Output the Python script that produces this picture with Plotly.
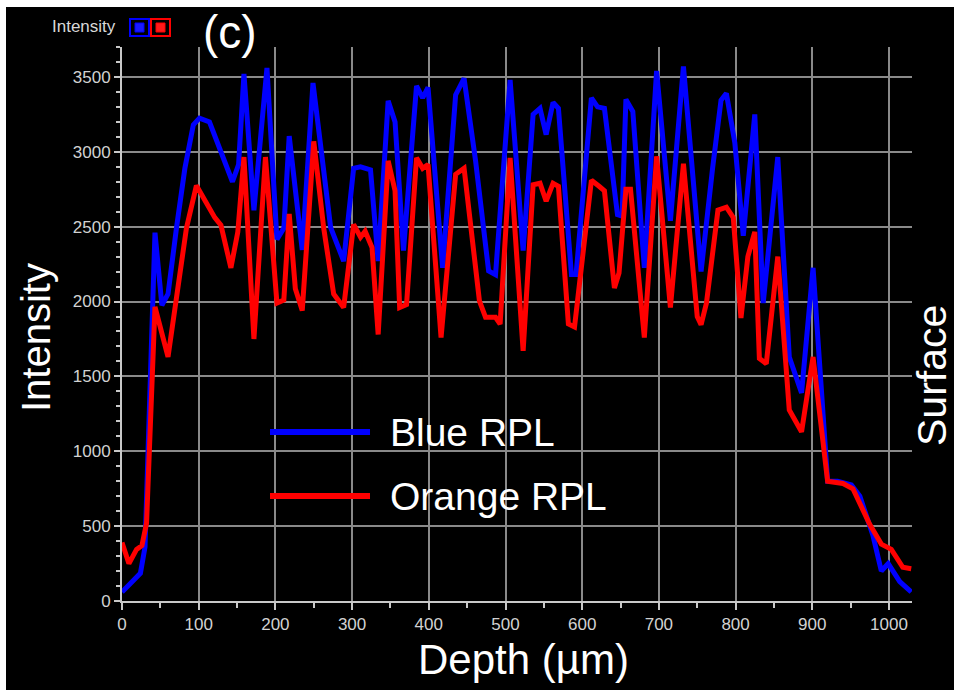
import plotly.graph_objects as go

# ---- data ----
depth_blue = [0, 10, 24, 30, 43, 52, 60, 71, 82, 93, 101, 114, 129, 144, 152, 159, 172, 189,
              202, 211, 218, 235, 249, 272, 289, 302, 311, 324, 334, 347, 356, 367, 384, 392,
              399, 418, 435, 446, 461, 478, 487, 506, 523, 536, 545, 553, 562, 569, 586, 592,
              612, 620, 629, 646, 652, 657, 666, 681, 697, 715, 732, 755, 770, 781, 788, 799,
              810, 825, 836, 855, 870, 886, 901, 920, 933, 951, 962, 979, 990, 999, 1014, 1029]
blue_rpl = [60, 110, 185, 360, 2460, 1975, 2050, 2490, 2890, 3180, 3225, 3200, 3010, 2800, 2915,
            3520, 2610, 3560, 2415, 2490, 3105, 2345, 3460, 2495, 2270, 2890, 2900, 2880, 2270,
            3340, 3200, 2340, 3440, 3360, 3430, 2225, 3380, 3490, 2940, 2205, 2180, 3480, 2340,
            3250, 3290, 3115, 3330, 3290, 2180, 2180, 3360, 3300, 3290, 2580, 2570, 3350, 3270,
            2225, 3540, 2540, 3570, 2200, 2890, 3345, 3390, 3060, 2440, 3250, 1990, 2965, 1630,
            1390, 2225, 800, 800, 775, 700, 440, 200, 250, 130, 60]

depth_orange = [0, 9, 19, 26, 32, 43, 60, 73, 84, 97, 110, 121, 129, 142, 151, 159, 172, 187,
                202, 211, 218, 226, 235, 250, 263, 276, 289, 302, 311, 317, 326, 334, 347, 356,
                362, 371, 384, 392, 399, 416, 435, 446, 466, 474, 487, 493, 506, 523, 536, 545,
                553, 562, 569, 582, 590, 612, 622, 629, 642, 648, 657, 663, 681, 697, 715, 732,
                750, 755, 762, 777, 788, 797, 807, 816, 825, 831, 840, 855, 870, 886, 901, 920,
                940, 953, 975, 990, 1003, 1018, 1029]
orange_rpl = [390, 250, 345, 370, 520, 1965, 1630, 2085, 2490, 2775, 2655, 2560, 2510, 2225, 2465,
              2965, 1750, 2965, 1990, 2010, 2585, 2085, 1940, 3070, 2490, 2050, 1960, 2515, 2430,
              2470, 2360, 1780, 2940, 2740, 1960, 1980, 2960, 2890, 2915, 1760, 2850, 2890, 2005,
              1895, 1895, 1850, 2960, 1670, 2780, 2790, 2670, 2790, 2770, 1850, 1830, 2810, 2770,
              2740, 2090, 2190, 2750, 2750, 1760, 2970, 1960, 2920, 1900, 1845, 1990, 2610, 2630,
              2560, 1890, 2300, 2465, 1620, 1585, 2300, 1275, 1130, 1630, 800, 785, 750, 510, 380,
              345, 225, 215]

series_names = ["Blue RPL", "Orange RPL"]
series_colors = ["#0000ff", "#ff0000"]

# ---- layout geometry (pixels) ----
W, H = 954, 690
ML, MR, MT, MB = 122, 42, 47, 89
PW, PH = W - ML - MR, H - MT - MB


def px(x):
    return (x - ML) / PW


def py(y):
    return (H - MB - y) / PH


FONT = "Liberation Sans, Arial, sans-serif"

fig = go.Figure()
fig.add_trace(go.Scatter(x=depth_blue, y=blue_rpl, mode="lines", name=series_names[0],
                         line=dict(color=series_colors[0], width=5), showlegend=False))
fig.add_trace(go.Scatter(x=depth_orange, y=orange_rpl, mode="lines", name=series_names[1],
                         line=dict(color=series_colors[1], width=5), showlegend=False))

axis_common = dict(
    showline=True, linecolor="#c8c8c8", linewidth=2,
    ticks="outside", tickcolor="#c8c8c8", tickwidth=2,
    showgrid=True, gridcolor="#8a8a8a", gridwidth=1.5,
    zeroline=False,
    tickfont=dict(family=FONT, size=17, color="#d2d2d2"),
)

fig.update_xaxes(range=[0, 1030], dtick=100, tick0=0, ticklen=7,
                 minor=dict(dtick=50, ticks="outside", ticklen=5, tickcolor="#c8c8c8",
                            tickwidth=2, showgrid=False),
                 **axis_common)
fig.update_yaxes(range=[0, 3700], dtick=500, tick0=0, ticklen=6,
                 minor=dict(dtick=100, ticks="outside", ticklen=4, tickcolor="#c8c8c8",
                            tickwidth=2, showgrid=False),
                 **axis_common)

shapes = []
# white strip at top / left edge of picture
shapes.append(dict(type="rect", xref="paper", yref="paper", x0=px(0), x1=px(W), y0=py(7), y1=py(0),
                   fillcolor="white", line=dict(width=0), layer="above"))
shapes.append(dict(type="rect", xref="paper", yref="paper", x0=px(0), x1=px(6), y0=py(H), y1=py(0),
                   fillcolor="white", line=dict(width=0), layer="above"))
# in-plot legend lines
for i, yy in enumerate([432, 496]):
    shapes.append(dict(type="line", xref="paper", yref="paper", x0=px(270), x1=px(370),
                       y0=py(yy), y1=py(yy), line=dict(color=series_colors[i], width=6)))
# small channel icons top-left
for i, (x0, x1) in enumerate([(130, 149), (151, 170)]):
    col = series_colors[i]
    shapes.append(dict(type="rect", xref="paper", yref="paper", x0=px(x0), x1=px(x1),
                       y0=py(36), y1=py(19), line=dict(color=col, width=2), fillcolor="rgba(0,0,0,0)"))
    shapes.append(dict(type="rect", xref="paper", yref="paper", x0=px(x0 + 5), x1=px(x1 - 5),
                       y0=py(32), y1=py(23), line=dict(color=col, width=1),
                       fillcolor=["#1a1aff", "#ff1a1a"][i]))

annotations = [
    dict(text=series_names[0], x=px(388), y=py(432), xref="paper", yref="paper",
         xanchor="left", yanchor="middle", showarrow=False,
         font=dict(family=FONT, size=39, color="white")),
    dict(text=series_names[1], x=px(388), y=py(496), xref="paper", yref="paper",
         xanchor="left", yanchor="middle", showarrow=False,
         font=dict(family=FONT, size=39, color="white")),
    dict(text="Intensity", x=px(36), y=py(338), xref="paper", yref="paper", textangle=-90,
         xanchor="center", yanchor="middle", showarrow=False,
         font=dict(family=FONT, size=40, color="white")),
    dict(text="Surface", x=px(932), y=py(375), xref="paper", yref="paper", textangle=-90,
         xanchor="center", yanchor="middle", showarrow=False,
         font=dict(family=FONT, size=41, color="white")),
    dict(text="Depth (µm)", x=px(523), y=py(659), xref="paper", yref="paper",
         xanchor="center", yanchor="middle", showarrow=False,
         font=dict(family=FONT, size=42, color="white")),
    dict(text="(c)", x=px(230), y=py(32), xref="paper", yref="paper",
         xanchor="center", yanchor="middle", showarrow=False,
         font=dict(family=FONT, size=46, color="white")),
    dict(text="Intensity", x=px(118), y=py(27), xref="paper", yref="paper",
         xanchor="right", yanchor="middle", showarrow=False,
         font=dict(family=FONT, size=17, color="#d8d8d8")),
]

fig.update_layout(
    width=W, height=H,
    margin=dict(l=ML, r=MR, t=MT, b=MB, pad=0),
    paper_bgcolor="black", plot_bgcolor="black",
    shapes=shapes, annotations=annotations,
    showlegend=False,
)

fig.write_html(
    "out.html",
    config={"displayModeBar": False},
    post_script="document.body.style.margin='0';document.body.style.overflow='hidden';",
)
